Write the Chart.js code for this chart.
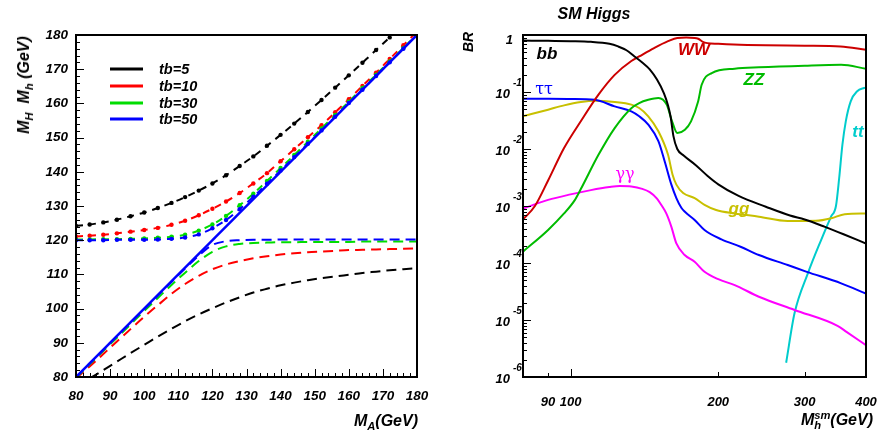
<!DOCTYPE html>
<html><head><meta charset="utf-8">
<script src="https://cdn.jsdelivr.net/npm/chart.js@4.4.0/dist/chart.umd.min.js"></script>
<style>
html,body{margin:0;padding:0;background:#fff;width:880px;height:438px;overflow:hidden;}
#wrap{position:relative;width:880px;height:438px;}
canvas{position:absolute;top:0;}
.t{position:absolute;font-family:"Liberation Sans",Arial,sans-serif;font-weight:bold;font-style:italic;color:#000;white-space:nowrap;line-height:1;}
.t sub,.t sup{font-size:0.7em;line-height:0;}
.g{font-family:"DejaVu Serif","Liberation Serif",serif;font-style:normal;font-weight:normal;}
</style></head><body>
<div id="wrap">
<canvas id="cl" width="440" height="438" style="left:0;width:440px;height:438px"></canvas>
<canvas id="cr" width="440" height="438" style="left:440px;width:440px;height:438px"></canvas>
</div>
<script>
// ---------------- Left panel: M_H, M_h vs M_A ----------------
const massA = [80,84,88,92,96,100,104,108,112,116,120,124,128,132,136,140,144,148,152,156,160,164,168,172,176,180];
const heavyTb5  = [124.2,124.6,125.2,126.0,127.0,128.1,129.4,130.9,132.6,134.5,136.6,139.0,141.7,144.5,147.6,150.8,154.1,157.5,161.0,164.6,168.2,171.9,175.6,179.3,183.0,186.7];
const heavyTb10 = [121.1,121.3,121.6,122.0,122.5,123.0,123.6,124.5,125.7,127.3,129.2,131.3,133.8,136.6,139.6,143.1,146.6,150.1,153.6,157.4,161.2,165.1,169.0,173.0,177.0,181.0];
const heavyTb30 = [120.2,120.2,120.3,120.3,120.4,120.5,120.7,121.0,121.6,122.8,124.6,127.1,130.2,133.6,137.3,141.1,144.9,148.8,152.7,156.6,160.5,164.5,168.4,172.3,176.2,180.2];
const heavyTb50 = [120.0,120.0,120.0,120.1,120.1,120.1,120.2,120.4,120.8,121.7,123.5,125.9,129.1,132.7,136.5,140.4,144.3,148.2,152.1,156.1,160.1,164.0,168.0,172.0,176.0,180.0];
const lightTb5  = [77.4,79.6,82.0,84.5,87.0,89.4,91.8,94.1,96.3,98.3,100.1,101.8,103.3,104.7,105.8,106.8,107.6,108.3,108.9,109.4,109.9,110.4,110.8,111.2,111.5,111.8];
const lightTb10 = [79.6,83.1,86.7,90.4,94.0,97.6,101.0,104.3,107.2,109.6,111.5,112.9,113.9,114.7,115.3,115.8,116.2,116.5,116.7,116.9,117.1,117.2,117.3,117.4,117.5,117.6];
const lightTb30 = [79.8,83.7,87.6,91.5,95.4,99.3,103.1,106.9,110.5,113.9,116.6,118.2,118.9,119.2,119.3,119.4,119.4,119.5,119.5,119.5,119.5,119.6,119.6,119.6,119.6,119.6];
const lightTb50 = [79.9,83.9,87.9,91.9,95.9,99.8,103.8,107.8,111.7,115.5,118.6,119.7,120.0,120.1,120.1,120.2,120.2,120.2,120.2,120.2,120.2,120.2,120.2,120.2,120.2,120.2];
const diagMass  = [80,180];
const diagValue = [80,180];
const legendLabels = ['tb=5','tb=10','tb=30','tb=50'];
const leftTicks = [80,90,100,110,120,130,140,150,160,170,180];

// ---------------- Right panel: SM Higgs branching ratios ----------------
const bbMass = [80,90,100,110,120,125,130,135,140,145,150,155,158,160,162,165,170,180,190,200,220,250,280,300,330,360,400];
const bbBR   = [0.80,0.79,0.78,0.76,0.70,0.63,0.54,0.42,0.33,0.25,0.165,0.095,0.058,0.036,0.017,0.010,0.0077,0.0052,0.0034,0.0024,0.0015,0.00097,0.00068,0.00058,0.00043,0.00032,0.00022];
const wwMass = [80,84.6,90,97,105,114,123,133,138,148,158,165,172,179,182,186,190,200,215,250,300,355,400];
const wwBR   = [5.8e-4,1.0e-3,2.8e-3,0.0104,0.031,0.09,0.20,0.35,0.42,0.59,0.78,0.89,0.90,0.89,0.86,0.76,0.72,0.70,0.68,0.66,0.65,0.63,0.55];
const zzMass = [80,90,97,102,105,114,123,133,138,144,151,157,161,165,171,176,182,185,194,216,242,300,356,400];
const zzBR   = [1.58e-4,3.8e-4,7.4e-4,1.27e-3,2.0e-3,7.9e-3,0.0233,0.052,0.064,0.073,0.0785,0.060,0.0306,0.0191,0.0218,0.0306,0.069,0.134,0.215,0.256,0.271,0.29,0.30,0.256];
const tauMass = [80,90,100,112,123,133,138,144,151,155.5,160.5,164.3,168.3,171,179,187.5,203,222,242,277,303,356,400];
const tauBR   = [0.0763,0.0762,0.0755,0.073,0.056,0.0458,0.0375,0.0267,0.0137,0.0061,0.00237,0.00138,9.2e-4,7.9e-4,5.7e-4,3.8e-4,2.6e-4,1.93e-4,1.38e-4,9.2e-5,7.0e-5,4.4e-5,2.9e-5];
const ggMass = [80,90,97,105,112,123,133,138,144,151,158,161.4,164.3,169.6,179,187.5,198,216,242,277,316,340,362,400];
const ggBR   = [0.0375,0.049,0.0583,0.0668,0.0704,0.0668,0.060,0.0524,0.0375,0.0205,0.0079,0.00354,0.00237,0.00169,0.00138,0.00105,8.5e-4,7.4e-4,6.5e-4,5.45e-4,5.5e-4,6.1e-4,7.2e-4,7.4e-4];
const gamMass = [80,90,100,110,120,126,133,140,145,150,153,156.7,160.5,164.3,170.8,179,187.5,200,216,242,286,350,365,400];
const gamBR   = [9.0e-4,1.28e-3,1.6e-3,1.9e-3,2.15e-3,2.24e-3,2.2e-3,2.0e-3,1.75e-3,1.35e-3,1.05e-3,7.4e-4,4.3e-4,2.2e-4,1.38e-4,1.05e-4,7.0e-5,5.2e-5,4.1e-5,2.56e-5,1.5e-5,7.9e-6,6.2e-6,3.6e-6];
const ttMass = [275,286,304.5,324,339.5,347.4,352.7,358.1,363.8,372.3,383.8,396.5,400];
const ttBR   = [1.78e-6,1.31e-5,6.6e-5,2.53e-4,6.5e-4,1.0e-3,3.1e-3,0.0119,0.0306,0.0687,0.103,0.1175,0.12];
const brExponents = [0,-1,-2,-3,-4,-5,-6];
const massTickLabels = [90,100,200,300,400];

// ---------------- helpers ----------------
const FAM = '"Liberation Sans", Arial, sans-serif';
const wrap = document.getElementById('wrap');
function txt(html, x, y, size, color, ax, cls, rot){
  const d = document.createElement('div');
  d.className = 't' + (cls ? ' ' + cls : '');
  d.innerHTML = html;
  d.style.fontSize = size + 'px';
  d.style.color = color || '#000';
  d.style.left = x + 'px';
  d.style.top = y + 'px';
  const tx = ax === 'right' ? '-100%' : (ax === 'center' ? '-50%' : '0');
  d.style.transform = 'translate(' + tx + ',-50%)' + (rot ? ' rotate(' + rot + 'deg)' : '');
  wrap.appendChild(d);
  return d;
}
const pts = (xs, ys) => xs.map((x, i) => ({x: x, y: ys[i]}));

// ---------------- left chart ----------------
const colL = ['#000000', '#ff0000', '#00dd00', '#0000ff'];
const heavy = [heavyTb5, heavyTb10, heavyTb30, heavyTb50];
const light = [lightTb5, lightTb10, lightTb30, lightTb50];
const dsL = [{
  data: pts(diagMass, diagValue), borderColor: '#0000ff', borderWidth: 2.5, pointRadius: 0
}];
for (let i = 3; i >= 0; i--) {
  dsL.push({data: pts(massA, heavy[i]), borderColor: colL[i], backgroundColor: colL[i],
    borderWidth: 2, borderDash: [7, 6], pointRadius: 2.2, pointBorderWidth: 0,
    pointBackgroundColor: colL[i], cubicInterpolationMode: 'monotone'});
}
for (let i = 3; i >= 0; i--) {
  dsL.push({data: pts(massA, light[i]), borderColor: colL[i], borderWidth: 2,
    borderDash: [10, 6], pointRadius: 0, cubicInterpolationMode: 'monotone'});
}

const leftDeco = {
  id: 'leftDeco',
  afterDraw(chart) {
    const {ctx, chartArea: a, scales: {x, y}} = chart;
    ctx.save();
    ctx.strokeStyle = '#000';
    ctx.lineWidth = 1;
    ctx.beginPath();
    for (let v = 80; v <= 180; v += 2) {
      const len = (v % 10 === 0) ? 8 : 4;
      const px = Math.round(x.getPixelForValue(v)) + 0.5;
      ctx.moveTo(px, a.bottom); ctx.lineTo(px, a.bottom - len);
      const py = Math.round(y.getPixelForValue(v)) + 0.5;
      ctx.moveTo(a.left, py); ctx.lineTo(a.left + len, py);
    }
    ctx.stroke();
    ctx.lineWidth = 2;
    ctx.strokeRect(a.left, a.top, a.right - a.left, a.bottom - a.top);
    // legend lines
    const ly = [69, 86, 103, 119];
    ctx.lineWidth = 3;
    for (let i = 0; i < 4; i++) {
      ctx.strokeStyle = colL[i];
      ctx.beginPath(); ctx.moveTo(110, ly[i]); ctx.lineTo(143, ly[i]); ctx.stroke();
    }
    ctx.restore();
  }
};

const tickFont = {family: FAM, size: 13.5, style: 'italic', weight: 'bold'};
new Chart(document.getElementById('cl'), {
  type: 'line',
  data: {datasets: dsL},
  options: {
    responsive: false, animation: false, devicePixelRatio: 1,
    layout: {padding: {left: 0, top: 35, right: 23, bottom: 0}},
    plugins: {legend: {display: false}, tooltip: {enabled: false}},
    scales: {
      x: {type: 'linear', min: 80, max: 180,
        grid: {display: false, drawTicks: false}, border: {display: false},
        afterBuildTicks: s => { s.ticks = leftTicks.map(v => ({value: v})); },
        ticks: {font: tickFont, color: '#000', padding: 11, maxRotation: 0, autoSkip: false},
        afterFit: s => { s.height = 61; }},
      y: {type: 'linear', min: 80, max: 180,
        grid: {display: false, drawTicks: false}, border: {display: false},
        afterBuildTicks: s => { s.ticks = leftTicks.map(v => ({value: v})); },
        ticks: {font: tickFont, color: '#000', padding: 8, autoSkip: false},
        afterFit: s => { s.width = 76; }}
    }
  },
  plugins: [leftDeco]
});

// left texts
txt('M<sub>H</sub>&nbsp; M<sub>h</sub> (GeV)', 24, 85, 16, '#000', 'center', '', -90);
txt('M<sub>A</sub>(GeV)', 418, 421, 16, '#000', 'right');
const legY = [69, 86, 103, 119];
legendLabels.forEach((l, i) => txt(l, 159, legY[i], 14.5, '#000', 'left'));

// ---------------- right chart ----------------
const series = [
  {m: bbMass, b: bbBR, c: '#000000'},
  {m: wwMass, b: wwBR, c: '#cc0000'},
  {m: zzMass, b: zzBR, c: '#00bb00'},
  {m: tauMass, b: tauBR, c: '#0000ff'},
  {m: ggMass, b: ggBR, c: '#c8c000'},
  {m: gamMass, b: gamBR, c: '#ff00ff'},
  {m: ttMass, b: ttBR, c: '#00cccc'}
];
const dsR = series.map(s => ({data: pts(s.m, s.b), borderColor: s.c, borderWidth: 2,
  pointRadius: 0, cubicInterpolationMode: 'monotone'}));

const rightDeco = {
  id: 'rightDeco',
  afterDraw(chart) {
    const {ctx, chartArea: a, scales: {x, y}} = chart;
    ctx.save();
    ctx.strokeStyle = '#000';
    ctx.lineWidth = 1;
    ctx.beginPath();
    for (let k = -6; k <= 0; k++) {
      const py = Math.round(y.getPixelForValue(Math.pow(10, k))) + 0.5;
      ctx.moveTo(a.left, py); ctx.lineTo(a.left + 8, py);
      if (k < 0) {
        for (let m = 2; m <= 9; m++) {
          const q = Math.round(y.getPixelForValue(m * Math.pow(10, k))) + 0.5;
          ctx.moveTo(a.left, q); ctx.lineTo(a.left + 4, q);
        }
      }
    }
    const bt = [[90, 4], [100, 8], [200, 5], [300, 5]];
    bt.forEach(([v, len]) => {
      const px = Math.round(x.getPixelForValue(v)) + 0.5;
      ctx.moveTo(px, a.bottom); ctx.lineTo(px, a.bottom - len);
    });
    ctx.stroke();
    ctx.lineWidth = 2;
    ctx.strokeRect(a.left, a.top, a.right - a.left, a.bottom - a.top);
    ctx.restore();
  }
};

const chR = new Chart(document.getElementById('cr'), {
  type: 'line',
  data: {datasets: dsR},
  options: {
    responsive: false, animation: false, devicePixelRatio: 1,
    layout: {padding: {left: 0, top: 35, right: 14, bottom: 0}},
    plugins: {legend: {display: false}, tooltip: {enabled: false}},
    scales: {
      x: {type: 'logarithmic', min: 80, max: 400,
        grid: {display: false, drawTicks: false}, border: {display: false},
        ticks: {display: false}, afterFit: s => { s.height = 61; }},
      y: {type: 'logarithmic', min: 1e-6, max: 1,
        grid: {display: false, drawTicks: false}, border: {display: false},
        ticks: {display: false}, afterFit: s => { s.width = 83; }}
    }
  },
  plugins: [rightDeco]
});

// right tick labels (HTML, positioned through the chart's scales)
const OFF = 440;
brExponents.forEach(k => {
  const py = chR.scales.y.getPixelForValue(Math.pow(10, k));
  if (k === 0) {
    txt('1', OFF + 73, py + 4, 13, '#000', 'right');
  } else {
    txt('10', OFF + 70, py + 1, 13, '#000', 'right');
    txt('-' + (-k), OFF + 73, py - 9, 10, '#000', 'left');
  }
});
massTickLabels.forEach(v => {
  const px = chR.scales.x.getPixelForValue(v);
  txt(String(v), OFF + px, 401, 13, '#000', 'center');
});

// right texts
txt('SM Higgs', 594, 14, 16, '#000', 'center');
txt('BR', 468, 42, 14, '#000', 'center', '', -90);
txt('M<sub>h</sub><sup style="margin-left:-7px">sm</sup>(GeV)', 873, 420, 16, '#000', 'right');
txt('bb', 547, 53, 17, '#000', 'center');
txt('WW', 694, 49, 17, '#cc0000', 'center');
txt('ZZ', 754, 79, 17, '#00bb00', 'center');
txt('ττ', 544, 89, 16, '#0000ff', 'center', 'g');
txt('tt', 858, 131, 17, '#00cccc', 'center');
txt('γγ', 625, 174, 16, '#ff00ff', 'center', 'g');
txt('gg', 739, 208, 17, '#c8c000', 'center');
</script>
</body></html>
